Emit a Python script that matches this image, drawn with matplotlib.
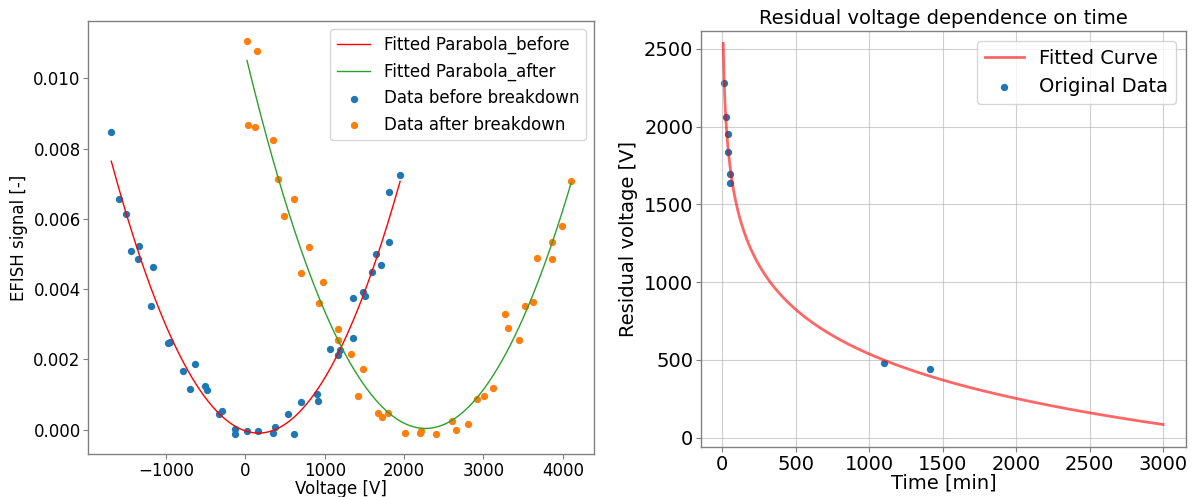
import numpy as np
import matplotlib
matplotlib.use('Agg')
import matplotlib.pyplot as plt

# EFISH signal vs voltage, before breakdown
v_before = [-1689, -1589, -1509, -1443, -1342, -1350, -1161, -1186, -969, -947,
            -780, -629, -696, -503, -478, -327, -289, -130, -126, 25,
            155, 344, 377, 541, 608, 704, 902, 918, 1061, 1170,
            1191, 1363, 1363, 1488, 1509, 1593, 1652, 1715, 1815, 1807,
            1950]
s_before = [0.00848, 0.00657, 0.00615, 0.00509, 0.00524, 0.00486, 0.00462, 0.00351, 0.00246, 0.00251,
            0.00166, 0.00188, 0.00116, 0.00125, 0.00114, 0.00045, 0.00053, 0.00001, -0.00011, -0.00004,
            -0.00004, -0.00010, 0.00009, 0.00046, -0.00013, 0.00080, 0.00103, 0.00081, 0.00231, 0.00213,
            0.00228, 0.00374, 0.00261, 0.00393, 0.00380, 0.00448, 0.00500, 0.00470, 0.00535, 0.00678,
            0.00725]

# after breakdown
v_after = [21, 142, 34, 126, 344, 411, 608, 487, 797, 696,
           985, 931, 1166, 1166, 1333, 1488, 1425, 1673, 1723, 1803,
           2017, 2197, 2218, 2403, 2608, 2658, 2809, 2918, 3003, 3119,
           3267, 3308, 3443, 3518, 3623, 3673, 3858, 3866, 3991, 4105]
s_after = [0.01107, 0.01078, 0.00868, 0.00862, 0.00826, 0.00714, 0.00657, 0.00608, 0.00520, 0.00447,
           0.00421, 0.00362, 0.00286, 0.00256, 0.00217, 0.00172, 0.00097, 0.00047, 0.00036, 0.00047,
           -0.00008, -0.00008, -0.00004, -0.00013, 0.00024, -0.00001, 0.00017, 0.00087, 0.00097, 0.00118,
           0.00330, 0.00291, 0.00256, 0.00351, 0.00364, 0.00489, 0.00533, 0.00486, 0.00580, 0.00708]

# residual voltage vs time
t_min = [16, 27, 39, 43, 52, 57, 1100, 1415]
v_res = [2281, 2061, 1954, 1835, 1696, 1635, 479, 440]

v_before = np.array(v_before)
s_before = np.array(s_before)
v_after = np.array(v_after)
s_after = np.array(s_after)
t_min = np.array(t_min)
v_res = np.array(v_res)

fig = plt.figure(figsize=(11.93, 4.97), dpi=100)


def grey_frame(ax):
    for sp in ax.spines.values():
        sp.set_color('0.5')
        sp.set_linewidth(1.0)
    ax.tick_params(color='0.5')


# left: parabola fits
ax1 = fig.add_axes([0.074, 0.0865, 0.424, 0.871])
p_b = np.polyfit(v_before, s_before, 2)
p_a = np.polyfit(v_after, s_after, 2)
xb = np.linspace(v_before.min(), v_before.max(), 300)
xa = np.linspace(v_after.min(), v_after.max(), 300)
ax1.plot(xb, np.polyval(p_b, xb), color='red', lw=1, label='Fitted Parabola_before')
ax1.plot(xa, np.polyval(p_a, xa), color='C2', lw=1, label='Fitted Parabola_after')
ax1.scatter(v_before, s_before, s=18, color='C0', label='Data before breakdown')
ax1.scatter(v_after, s_after, s=18, color='C1', label='Data after breakdown')
ax1.set_xlabel('Voltage [V]', fontsize=12, labelpad=0)
ax1.set_ylabel('EFISH signal [-]', fontsize=12)
ax1.tick_params(labelsize=12, pad=2)
ax1.legend(loc='upper right', fontsize=12)
grey_frame(ax1)

# right: log fit of residual voltage
ax2 = fig.add_axes([0.5876, 0.1006, 0.4065, 0.837])
k = np.polyfit(np.log(t_min), v_res, 1)
tt = np.linspace(8, 3000, 500)
ax2.plot(tt, np.polyval(k, np.log(tt)), color='red', alpha=0.6, lw=2, label='Fitted Curve')
ax2.scatter(t_min, v_res, s=18, color='C0', label='Original Data')
ax2.set_title('Residual voltage dependence on time', fontsize=14, pad=5)
ax2.set_xlabel('Time [min]', fontsize=14, labelpad=0)
ax2.set_ylabel('Residual voltage [V]', fontsize=14)
ax2.tick_params(labelsize=14, pad=2)
ax2.set_xticks([0, 500, 1000, 1500, 2000, 2500, 3000])
ax2.set_xlim(-143, 3156)
ax2.set_ylim(-60, 2615)
ax2.grid(True, alpha=0.6)
ax2.legend(loc='upper right', fontsize=14)
grey_frame(ax2)

fig.savefig('out.png', dpi=100)
